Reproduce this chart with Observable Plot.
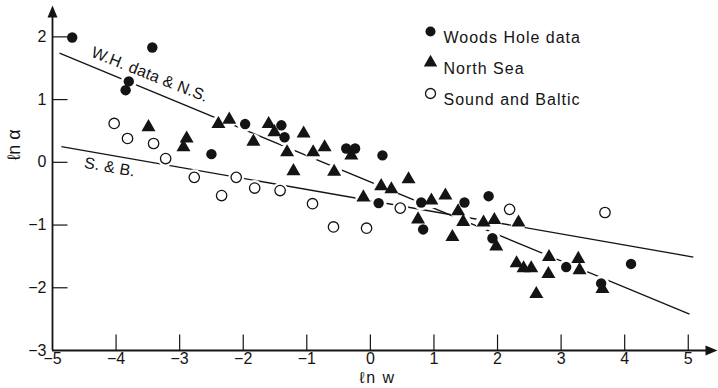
<!DOCTYPE html>
<html><head><meta charset="utf-8">
<script src="https://cdn.jsdelivr.net/npm/d3@7"></script>
<script src="https://cdn.jsdelivr.net/npm/@observablehq/plot@0.6"></script>
<style>body{margin:0;background:#fff}#chart{width:718px;height:388px}</style>
</head><body><div id="chart"></div>
<script>
// ---- data ----
const woodsHoleX = [-4.69,-3.43,-3.80,-3.85,-2.50,-1.97,-1.40,-1.35,-0.38,-0.24,0.19,0.13,0.80,0.83,1.48,1.86,1.92,3.08,3.63,4.10];
const woodsHoleY = [1.99,1.83,1.29,1.15,0.13,0.61,0.59,0.40,0.22,0.22,0.11,-0.65,-0.64,-1.07,-0.64,-0.54,-1.21,-1.67,-1.93,-1.62];
const northSeaX = [-3.49,-2.89,-2.94,-2.39,-2.22,-1.60,-1.51,-1.84,-1.05,-1.31,-0.90,-0.72,-0.30,-1.21,-0.57,-0.11,0.17,0.33,0.60,0.96,1.18,1.38,1.46,0.75,1.29,1.78,1.95,1.98,2.33,2.81,2.30,2.41,2.53,2.80,2.61,3.27,3.29,3.65];
const northSeaY = [0.56,0.38,0.24,0.61,0.68,0.61,0.48,0.33,0.46,0.16,0.16,0.24,0.11,-0.14,-0.15,-0.56,-0.38,-0.43,-0.27,-0.61,-0.53,-0.78,-0.95,-0.91,-1.19,-0.96,-0.92,-1.34,-0.96,-1.51,-1.61,-1.69,-1.69,-1.78,-2.10,-1.54,-1.72,-2.02];
const balticX = [-4.03,-3.82,-3.41,-3.22,-2.77,-2.34,-2.11,-1.82,-1.42,-0.91,-0.58,-0.06,0.47,2.19,3.69];
const balticY = [0.62,0.38,0.30,0.06,-0.24,-0.53,-0.24,-0.41,-0.45,-0.66,-1.03,-1.05,-0.73,-0.75,-0.80];

const fitNames = ["W.H. data & N.S.", "S. & B."];
const fitX1 = [-4.89, -4.86];
const fitY1 = [1.74, 0.25];
const fitX2 = [5.02, 5.08];
const fitY2 = [-2.42, -1.51];
const fitLabelX = [-3.47, -4.10];

const legendNames = ["Woods Hole data", "North Sea", "Sound and Baltic"];
const xTicks = [-5,-4,-3,-2,-1,0,1,2,3,4,5];
const yTicks = [-3,-2,-1,0,1,2];
const xLabel = "ℓn w";
const yLabel = "ℓn α";

// ---- build tables ----
const zip = (xs, ys, series) => xs.map((x, i) => ({x, y: ys[i], series}));
const woodsHole = zip(woodsHoleX, woodsHoleY, legendNames[0]);
const northSea = zip(northSeaX, northSeaY, legendNames[1]);
const baltic = zip(balticX, balticY, legendNames[2]);
const allPoints = [...woodsHole, ...northSea, ...baltic];
const fits = fitNames.map((name, i) => ({name, x1: fitX1[i], y1: fitY1[i], x2: fitX2[i], y2: fitY2[i]}));
const lineY = (f, x) => f.y1 + (f.y2 - f.y1) * (x - f.x1) / (f.x2 - f.x1);
const fitLabels = fits.map((f, i) => ({name: f.name, x: fitLabelX[i], y: lineY(f, fitLabelX[i])}));
const fmt = d => (d < 0 ? "\u2212" : "") + Math.abs(d);

// custom symbols
const xTickSym = {draw(c) { c.moveTo(0, 0); c.lineTo(0, -16); }};
const yTickSym = {draw(c) { c.moveTo(0, 0); c.lineTo(15, 0); }};
const upArrow = {draw(c) { c.moveTo(0, 0); c.lineTo(5, 12); c.lineTo(-5, 12); c.closePath(); }};
const rightArrow = {draw(c) { c.moveTo(0, 0); c.lineTo(-12, -5); c.lineTo(-12, 5); c.closePath(); }};

const ink = "#141414";
const font = "'Liberation Sans', Arial, Helvetica, sans-serif";

const legendMarks = legendNames.flatMap((name, i) => {
  const dy = 26 + 31 * i;
  const sym = i === 1 ? "triangle" : "circle";
  const fill = i === 2 ? "white" : ink;
  const stroke = i === 2 ? ink : "none";
  return [
    Plot.dot([name], {frameAnchor: "top-left", dx: 378, dy, r: 5, symbol: sym, fill, stroke, strokeWidth: 1.3}),
    Plot.text([name], {frameAnchor: "top-left", dx: 391, dy, text: d => d, textAnchor: "start", fontSize: 16, fill: ink})
  ];
});

const chart = Plot.plot({
  width: 718, height: 388,
  marginLeft: 52, marginRight: 1, marginTop: 5, marginBottom: 38,
  x: {domain: [-5, 5.46], label: null},
  y: {domain: [-3, 2.5], label: null},
  style: {fontFamily: font, fontSize: "16px", color: ink, background: "white", overflow: "visible"},
  marks: [
    // fitted lines
    Plot.link(fits, {x1: "x1", y1: "y1", x2: "x2", y2: "y2", stroke: ink, strokeWidth: 1.3}),
    // white halos that break the lines around markers
    Plot.dot(allPoints, {x: "x", y: "y", r: 8, fill: "white", stroke: "none"}),
    // markers
    Plot.dot(baltic, {x: "x", y: "y", r: 5.2, fill: "white", stroke: ink, strokeWidth: 1.3}),
    Plot.dot(northSea, {x: "x", y: "y", r: 5.2, symbol: "triangle", fill: ink, stroke: "none"}),
    Plot.dot(woodsHole, {x: "x", y: "y", r: 5.2, fill: ink, stroke: "none"}),
    // fit labels
    Plot.text(fitLabels.slice(0, 1), {x: "x", y: "y", text: "name", rotate: 21.5, dy: -16, fontSize: 16, fill: ink}),
    Plot.text(fitLabels.slice(1), {x: "x", y: "y", text: "name", rotate: 10, dy: 12, fontSize: 16, fill: ink}),
    // axes lines
    Plot.ruleY([-3], {x1: -5, x2: 5.3, stroke: ink, strokeWidth: 1.8}),
    Plot.ruleX([-5], {y1: -3, y2: 2.35, stroke: ink, strokeWidth: 1.8}),
    Plot.dot([0], {x: -5, y: 2.5, symbol: upArrow, fill: ink, stroke: "none"}),
    Plot.dot([0], {x: 5.46, y: -3, symbol: rightArrow, fill: ink, stroke: "none"}),
    // inward ticks
    Plot.dot(xTicks.filter(t => t > -5), {x: d => d, y: -3, symbol: xTickSym, fill: "none", stroke: ink, strokeWidth: 1.2}),
    Plot.dot(yTicks.filter(t => t > -3), {x: -5, y: d => d, symbol: yTickSym, fill: "none", stroke: ink, strokeWidth: 1.2}),
    // tick labels
    Plot.axisX(xTicks, {tickSize: 0, tickPadding: 2, fontSize: 16, label: null, tickFormat: fmt}),
    Plot.axisY(yTicks, {tickSize: 0, tickPadding: 6, fontSize: 16, label: null, tickFormat: fmt}),
    // axis titles
    Plot.text([xLabel], {frameAnchor: "bottom", dx: -7.5, dy: 32, text: d => d, fontSize: 16, fill: ink}),
    Plot.text([yLabel], {frameAnchor: "left", dx: -38, dy: -17.5, text: d => d, rotate: -90, fontSize: 18, fill: ink}),
    ...legendMarks
  ]
});
for (const t of chart.querySelectorAll("text")) {
  if (legendNames.includes(t.textContent)) t.setAttribute("letter-spacing", "1.0");
  else if (fitNames.includes(t.textContent)) t.setAttribute("letter-spacing", "0.2");
  else if (t.textContent === xLabel) t.setAttribute("letter-spacing", "1.5");
}
document.getElementById("chart").append(chart);
</script>
</body></html>
